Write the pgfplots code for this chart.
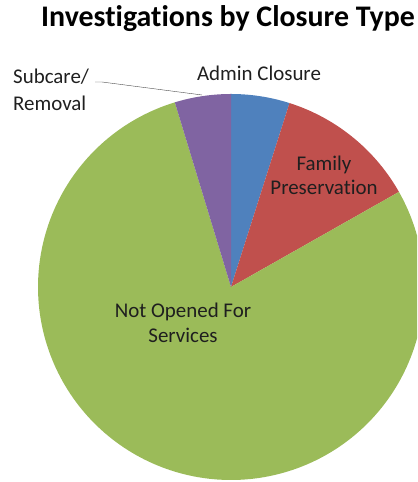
\documentclass[border=0pt]{standalone}
\usepackage{pgfplots}
\pgfplotsset{compat=1.18}
\usepackage{fontspec}
\setmainfont{Carlito}[Ligatures=NoCommon]
\definecolor{sBlue}{HTML}{4F81BD}
\definecolor{sRed}{HTML}{C0504D}
\definecolor{sGreen}{HTML}{9BBB59}
\definecolor{sPurple}{HTML}{8064A2}
% shares in percent, clockwise from 12 o'clock
\def\pAdmin{4.9}
\def\pFamily{11.9}
\def\pNot{78.5}
\def\pSub{4.7}
\begin{document}
\begin{tikzpicture}[x=1bp,y=1bp]
\useasboundingbox (0,0) rectangle (417,482);
\clip (0,0) rectangle (417,482);
\pgfmathsetmacro\aA{90}
\pgfmathsetmacro\aB{\aA-3.6*\pAdmin}
\pgfmathsetmacro\aC{\aB-3.6*\pFamily}
\pgfmathsetmacro\aD{\aC-3.6*\pNot}
\pgfmathsetmacro\aE{\aD-3.6*\pSub}
\begin{axis}[at={(231bp,195bp)}, anchor=center, hide axis, scale only axis,
  width=386bp, height=386bp, xmin=-1, xmax=1, ymin=-1, ymax=1, clip=false]
\addplot[fill=sBlue, draw=none, domain=\aB:\aA, samples=30, variable=\t]
  ({cos(\t)},{sin(\t)}) -- (axis cs:0,0) -- cycle;
\addplot[fill=sRed, draw=none, domain=\aC:\aB, samples=40, variable=\t]
  ({cos(\t)},{sin(\t)}) -- (axis cs:0,0) -- cycle;
\addplot[fill=sGreen, draw=none, domain=\aD:\aC, samples=200, variable=\t]
  ({cos(\t)},{sin(\t)}) -- (axis cs:0,0) -- cycle;
\addplot[fill=sPurple, draw=none, domain=\aE:\aD, samples=30, variable=\t]
  ({cos(\t)},{sin(\t)}) -- (axis cs:0,0) -- cycle;
\end{axis}
\tikzset{lbl/.style={anchor=base, inner sep=0pt, text=black!88, font=\fontsize{21}{25}\selectfont}}
\node[anchor=base, inner sep=0pt, font=\bfseries\fontsize{30}{34}\selectfont] at (228,455) {Investigations by Closure Type};
\node[lbl] at (259,401) {Admin Closure};
\node[lbl] at (324,311) {Family};
\node[lbl] at (324,287) {Preservation};
\node[lbl] at (183,164) {Not Opened For};
\node[lbl] at (183,139) {Services};
\node[lbl, anchor=base west] at (13,398) {Subcare/};
\node[lbl, anchor=base west] at (13,371) {Removal};
\draw[black!70, thin] (95,400) -- (102,400) -- (202,387);
\end{tikzpicture}
\end{document}
